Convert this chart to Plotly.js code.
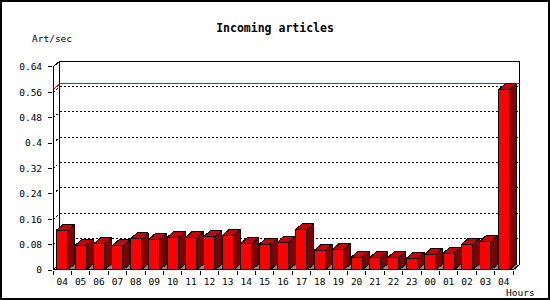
<!DOCTYPE html>
<html><head><meta charset="utf-8">
<script src="https://cdn.plot.ly/plotly-3.0.1.min.js"></script>
<style>
html,body{margin:0;padding:0;background:#fff}
#chart{width:550px;height:300px}
#chart svg path{shape-rendering:crispEdges}
</style>
</head><body><div id="chart"></div>
<script>
// ---- data ----
const hours = ['04','05','06','07','08','09','10','11','12','13','14','15','16','17','18','19','20','21','22','23','00','01','02','03','04'];
const artPerSec = [0.126,0.078,0.082,0.076,0.098,0.097,0.103,0.103,0.106,0.109,0.084,0.081,0.088,0.128,0.062,0.066,0.040,0.039,0.040,0.037,0.050,0.053,0.081,0.091,0.568];
const yTickVals = [0,0.08,0.16,0.24,0.32,0.4,0.48,0.56,0.64];
const yTickText = ['0','0.08','0.16','0.24','0.32','0.4','0.48','0.56','0.64'];

// ---- layout geometry ----
const W = 550, H = 300, L = 53, T = 61, R = 520, B = 270;
const dx = 0.38;      // 3D depth, category units
const dy = 0.0189;    // 3D depth, value units
const half = 0.3;     // half bar width
const n = hours.length;
const xs = hours.map((_, i) => i);
const yTop = yTickVals[yTickVals.length - 1];
const xRange = [-0.5, n - 0.5 + dx];
const yRange = [0, yTop + dy];
const px = p => (p - L) / (R - L);
const py = p => (B - p) / (B - T);
const mono = 'DejaVu Sans Mono, Liberation Mono, monospace';

// ---- 3D faces built from the data ----
const topX = [], topY = [], sideX = [], sideY = [], grayX = [], grayY = [];
artPerSec.forEach((v, i) => {
  topX.push(i - half, i - half + dx, i + half + dx, i + half, i - half, null);
  topY.push(v, v + dy, v + dy, v, v, null);
  sideX.push(i + half, i + half, i + half + dx, i + half + dx, i + half, null);
  sideY.push(0, v, v + dy, dy, 0, null);
  grayX.push(i + half, i + half + dx, i + half + dx, i + half, null);
  grayY.push(0, dy, 0, 0, null);
});

const traces = [
  {type: 'scatter', x: grayX, y: grayY, mode: 'lines', fill: 'toself',
   fillcolor: '#8a8a8a', line: {width: 0, color: '#8a8a8a'}, hoverinfo: 'skip', showlegend: false},
  {type: 'scatter', x: sideX, y: sideY, mode: 'lines', fill: 'toself',
   fillcolor: '#800000', line: {width: 1, color: '#000'}, hoverinfo: 'skip', showlegend: false},
  {type: 'scatter', x: topX, y: topY, mode: 'lines', fill: 'toself',
   fillcolor: '#c80000', line: {width: 1, color: '#000'}, hoverinfo: 'skip', showlegend: false},
  {type: 'bar', x: xs, y: artPerSec, width: 2 * half,
   marker: {color: '#ff0000', line: {color: '#000', width: 1}}, hoverinfo: 'skip', showlegend: false}
];

// ---- back plane, grid, axes ----
const shapes = [];
const dotted = {color: '#000', width: 1, dash: '2px,2px'};
yTickVals.slice(1, -1).forEach(v => {
  shapes.push({type: 'line', layer: 'below', xref: 'x', yref: 'y',
    x0: -0.5 + dx, x1: n - 0.5 + dx, y0: v + dy, y1: v + dy, line: dotted});
  shapes.push({type: 'line', layer: 'below', xref: 'x', yref: 'y',
    x0: -0.5, x1: -0.5 + dx, y0: v, y1: v + dy, line: dotted});
});
const vmax = Math.max(...artPerSec);
shapes.push({type: 'path', layer: 'below', xref: 'x', yref: 'y',
  path: `M ${-0.5},${vmax} L ${-0.5 + dx},${vmax + dy} L ${n - 0.5 + dx},${vmax + dy}`,
  line: {color: '#ff0000', width: 1}});
// back plane border
shapes.push({type: 'line', layer: 'below', xref: 'x', yref: 'y',
  x0: -0.5 + dx, x1: -0.5 + dx, y0: dy, y1: yTop + dy, line: {color: '#000', width: 1}});
shapes.push({type: 'line', layer: 'above', xref: 'x', yref: 'y',
  x0: -0.5 + dx, x1: n - 0.5 + dx, y0: yTop + dy, y1: yTop + dy, line: {color: '#000', width: 2}});
shapes.push({type: 'line', layer: 'above', xref: 'x', yref: 'y',
  x0: n - 0.5 + dx, x1: n - 0.5 + dx, y0: dy, y1: yTop + dy, line: {color: '#000', width: 2}});
// floor diagonals
shapes.push({type: 'line', layer: 'below', xref: 'x', yref: 'y',
  x0: -0.5, x1: -0.5 + dx, y0: 0, y1: dy, line: {color: '#000', width: 1}});
shapes.push({type: 'line', layer: 'above', xref: 'x', yref: 'y',
  x0: n - 0.5, x1: n - 0.5 + dx, y0: 0, y1: dy, line: {color: '#000', width: 1}});
// front axes
shapes.push({type: 'line', layer: 'above', xref: 'x', yref: 'y',
  x0: -0.5, x1: -0.5, y0: 0, y1: yTop, line: {color: '#000', width: 2}});
shapes.push({type: 'line', layer: 'above', xref: 'x', yref: 'y',
  x0: -0.5, x1: -0.5 + dx, y0: yTop, y1: yTop + dy, line: {color: '#000', width: 1}});
shapes.push({type: 'line', layer: 'above', xref: 'x', yref: 'y',
  x0: -0.5, x1: n - 0.5, y0: 0, y1: 0, line: {color: '#000', width: 2}});
// outer frame
shapes.push({type: 'rect', xref: 'paper', yref: 'paper',
  x0: px(1), x1: px(549), y0: py(299), y1: py(1), line: {color: '#000', width: 2}});

const layout = {
  width: W, height: H,
  margin: {l: L, r: W - R, t: T, b: H - B, pad: 0},
  paper_bgcolor: '#fff', plot_bgcolor: '#fff',
  showlegend: false, hovermode: false,
  title: {text: '<b>Incoming articles</b>', font: {family: mono, size: 11.5, color: '#000'},
    x: 0.5, xref: 'container', xanchor: 'center', y: 1 - 28 / H, yref: 'container', yanchor: 'middle'},
  xaxis: {range: xRange, showgrid: false, zeroline: false, showline: false,
    tickmode: 'array', tickvals: xs, ticktext: hours, ticks: '', ticklabelstandoff: 4,
    tickfont: {family: mono, size: 9.5, color: '#000'},
    minor: {tickmode: 'linear', tick0: -0.5, dtick: 1, ticks: 'outside', ticklen: 4,
      tickwidth: 1, tickcolor: '#000', showgrid: false}},
  yaxis: {range: yRange, showgrid: false, zeroline: false, showline: false,
    tickmode: 'array', tickvals: yTickVals, ticktext: yTickText, ticklabelstandoff: 4,
    ticks: 'outside', ticklen: 4, tickwidth: 1, tickcolor: '#000',
    tickfont: {family: mono, size: 9.5, color: '#000'}},
  shapes: shapes,
  annotations: [
    {text: 'Art/sec', xref: 'paper', yref: 'paper', x: px(30), y: py(39),
     xanchor: 'left', yanchor: 'middle', showarrow: false, font: {family: mono, size: 9.5, color: '#000'}},
    {text: 'Hours', xref: 'paper', yref: 'paper', x: px(504), y: py(292),
     xanchor: 'left', yanchor: 'middle', showarrow: false, font: {family: mono, size: 9.5, color: '#000'}}
  ]
};

Plotly.newPlot('chart', traces, layout, {displayModeBar: false, staticPlot: true});
</script>
</body></html>
